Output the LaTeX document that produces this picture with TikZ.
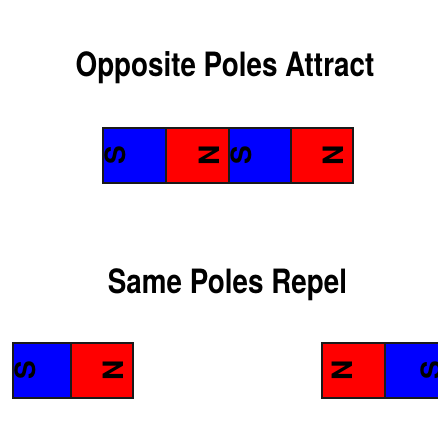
\documentclass[tikz,border=0pt]{standalone}
\usepackage{fontspec}
\setmainfont{Liberation Sans}
\newfontfamily\titlefont{texgyreheros}[Extension=.otf,UprightFont=*-bold,FakeStretch=0.83]
\newfontfamily\tagfont{texgyreheros}[Extension=.otf,UprightFont=*-bold]
\usetikzlibrary{positioning,calc}
\definecolor{northred}{HTML}{FF0000}
\definecolor{southblue}{HTML}{0000FF}
\definecolor{rim}{HTML}{1A1A1A}
\tikzset{
  heading/.style={anchor=base, inner sep=0pt, font=\titlefont\fontsize{33.5}{40}\selectfont},
  pole/.style={rectangle, draw=rim, line width=1.2pt, outer sep=0pt, inner sep=0pt,
               minimum height=55pt},
  spole/.style={pole, fill=southblue},
  npole/.style={pole, fill=northred},
  poletag/.style={rotate=90, inner sep=0pt, font=\tagfont\fontsize{28}{30}\selectfont}
}
\begin{document}
\begin{tikzpicture}[x=1pt,y=-1pt]
  \useasboundingbox (0,0) rectangle (438,431);
  \node[heading] (attract) at (225,76) {Opposite Poles Attract};
  \node[heading] (repel) at (227.5,293) {Same Poles Repel};
  % two magnets end to end
  \node[spole, minimum width=63pt] (sa) at (134.5,155.5) {};
  \node[npole, minimum width=63pt, right=0pt of sa] (na) {};
  \node[spole, minimum width=62pt, right=0pt of na] (sb) {};
  \node[npole, minimum width=62pt, right=0pt of sb] (nb) {};
  % two magnets apart, north faces north
  \node[spole, minimum width=58pt] (sc) at (42,370.5) {};
  \node[npole, minimum width=62pt, right=0pt of sc] (nc) {};
  \node[npole, minimum width=63pt] (nd) at (353.5,370.5) {};
  \node[spole, minimum width=58pt, right=0pt of nd] (sd) {};
  \foreach \m in {sa,sb,sc} \node[poletag] at ($(\m.west)+(12,0)$) {S};
  \foreach \m in {na,nb,nc} \node[poletag] at ($(\m.east)+(-20,0)$) {N};
  \node[poletag] at ($(nd.west)+(20,0)$) {N};
  \node[poletag] at ($(sd.east)+(-12,0)$) {S};
\end{tikzpicture}
\end{document}
